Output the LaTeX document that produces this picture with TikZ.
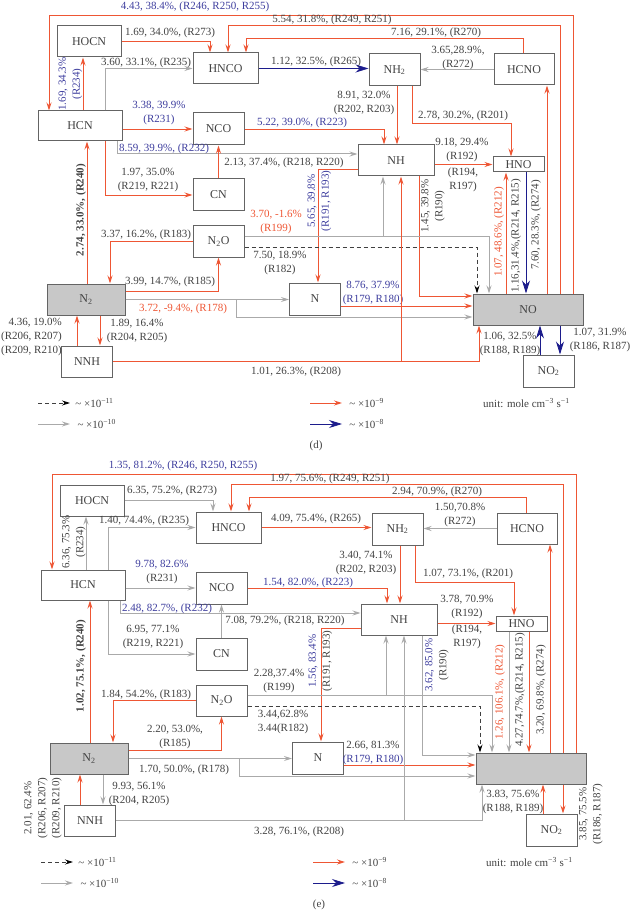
\documentclass[tikz,border=0pt]{standalone}
\usepackage{fontspec}
\setmainfont{Liberation Serif}
\usetikzlibrary{arrows.meta}

\definecolor{flowred}{RGB}{238,86,52}
\definecolor{flowblue}{RGB}{28,28,140}
\definecolor{flowgray}{RGB}{170,170,170}
\definecolor{lblblue}{RGB}{62,62,158}
\definecolor{lblgray}{RGB}{66,66,66}
\definecolor{boxline}{RGB}{100,100,100}
\definecolor{boxfill}{RGB}{200,200,200}

\tikzset{
  species/.style = {draw=boxline, line width=1pt, rectangle, minimum width=51pt,
    minimum height=31pt, inner sep=0pt, text=lblgray, font=\fontsize{12}{14}\selectfont},
  rflow/.style = {draw=flowred, line width=0.9pt, -{Stealth[length=8pt,width=5pt]}},
  gflow/.style = {draw=flowgray, line width=1pt, -{Stealth[length=8pt,width=5pt]}},
  bflow/.style = {draw=flowblue, line width=0.8pt, -{Stealth[length=13pt,width=8pt]}},
  dflow/.style = {draw=black!75, line width=0.8pt, dash pattern=on 4pt off 3pt,
    -{Stealth[length=8pt,width=5pt,black]}},
  lbl/.style = {text=lblgray, inner sep=0pt, align=center},
  lblb/.style = {lbl, text=lblblue},
  lblr/.style = {lbl, text=flowred},
  boldlbl/.style = {lbl, font=\fontsize{11}{14}\selectfont\bfseries},
}

% species boxes and legend of one panel: #1 = text of NO box, #2 = panel letter
\newcommand{\speciesnodes}[2]{%
  \node[species, minimum width=64pt] (HOCN) at (89,41.5) {HOCN};
  \node[species, minimum width=65pt] (HNCO) at (225.5,68.5) {HNCO};
  \node[species, minimum width=84pt, minimum height=30pt] (HCN) at (80,126) {HCN};
  \node[species, minimum height=32pt] (NCO) at (218.5,129) {NCO};
  \node[species, minimum height=32pt] (CN) at (218.5,195) {CN};
  \node[species, minimum height=32pt] (NHtwo) at (394.5,70) {NH\textsubscript{2}};
  \node[species, minimum width=60pt] (HCNO) at (524,69.5) {HCNO};
  \node[species, minimum width=76pt] (NH) at (396,160.5) {NH};
  \node[species, minimum height=15pt] (HNO) at (518.5,164.5) {HNO};
  \node[species] (NtwoO) at (218.5,241.5) {N\textsubscript{2}O};
  \node[species, fill=boxfill, minimum width=78pt] (Ntwo) at (86,299.5) {N\textsubscript{2}};
  \node[species] (NNH) at (87,361.5) {NNH};
  \node[species, minimum height=32pt] (N) at (315,299) {N};
  \node[species, fill=boxfill, minimum width=110pt] (NO) at (528,309.5) {#1};
  \node[species, minimum height=32pt] (NOtwo) at (548.5,371) {NO\textsubscript{2}};
  % legend
  \coordinate (kA) at (38,403);
  \coordinate (kB) at (38,424);
  \coordinate (kC) at (310,403);
  \coordinate (kD) at (310,424);
  \draw[dflow] (kA) -- ++(32,0) node[lbl, anchor=west, xshift=5pt] (kAtext) {\textasciitilde\ ×10\textsuperscript{−11}};
  \draw[gflow] (kB) -- ++(32,0) node[lbl, anchor=west, xshift=7pt] (kBtext) {\textasciitilde\ ×10\textsuperscript{−10}};
  \draw[rflow] (kC) -- ++(32,0) node[lbl, anchor=west, xshift=7pt] (kCtext) {\textasciitilde\ ×10\textsuperscript{−9}};
  \draw[bflow] (kD) -- ++(32,0) node[lbl, anchor=west, xshift=7pt] (kDtext) {\textasciitilde\ ×10\textsuperscript{−8}};
  \node[lbl, anchor=west] (unit) at (483,403) {unit: mole cm\textsuperscript{−3} s\textsuperscript{−1}};
  \node[lbl] (panel) at (316,446) {#2};
}

\begin{document}
\begin{tikzpicture}[x=1pt, y=-1pt, font=\fontsize{11}{14}\selectfont]
\useasboundingbox (0,0) rectangle (632,917);

% ---------------- panel (d)
\begin{scope}[name prefix=d-]
\speciesnodes{NO}{(d)}
\draw[rflow] ([xshift=45pt]NO.north) -- ++(0,-278) -| ([xshift=-31pt]HCN.north);
\node[lblb] (tR246) at (195,7) {4.43, 38.4\%, (R246, R250, R255)};
\draw[rflow] ([xshift=32pt]NO.north) -- ++(0,-268) -| ([xshift=2.5pt]HNCO.north);
\node[lbl] (tR249) at (332,20) {5.54, 31.8\%, (R249, R251)};
\draw[rflow] ([xshift=-1pt]HCNO.north) -- ++(0,-15) -| ([xshift=20.5pt]HNCO.north);
\node[lbl] (tR270) at (436,33) {7.16, 29.1\%, (R270)};
\draw[rflow] (HOCN.east) -| ([xshift=-15.5pt]HNCO.north);
\node[lbl] (tR273) at (170,33) {1.69, 34.0\%, (R273)};
\draw[rflow] ([xshift=3pt]HCN.north) -- ([xshift=-6pt]HOCN.south);
\node[lblb, rotate=90] (tR234) at (70.5,84) {1.69, 34.3\%\\(R234)};
\draw[gflow] ([xshift=25pt]HCN.north) |- (HNCO.west);
\node[lbl] (tR235) at (146,63) {3.60, 33.1\%, (R235)};
\draw[rflow] (HCN.east |- NCO.west) -- (NCO.west);
\node[lblb] (tR231) at (159,113.5) {3.38, 39.9\%\\(R231)};
\draw[gflow] ([xshift=37pt]HCN.south) |- ([yshift=6.5pt]NH.west);
\node[lblb] (tR232) at (164,149) {8.59, 39.9\%, (R232)};
\draw[rflow] ([xshift=25pt]HCN.south) |- (CN.west);
\node[lbl] (tR219) at (148,180) {1.97, 35.0\%\\(R219, R221)};
\draw[rflow] (CN.north) -- (NCO.south);
\node[lbl] (tR218) at (284,163) {2.13, 37.4\%, (R218, R220)};
\draw[rflow] (NCO.east) -| ([xshift=-12pt]NH.north);
\node[lblb] (tR223) at (302,123) {5.22, 39.0\%, (R223)};
\draw[bflow] (HNCO.east) -- (HNCO.east -| NHtwo.west);
\node[lbl] (tR265) at (316,62) {1.12, 32.5\%, (R265)};
\draw[gflow] (HCNO.west) -- (HCNO.west -| NHtwo.east);
\node[lbl] (tR272) at (458,58) {3.65,28.9\%,\\(R272)};
\draw[rflow] ([xshift=2.5pt]NHtwo.south) -- ([xshift=1pt]NH.north);
\node[lbl] (tR202) at (364,103) {8.91, 32.0\%\\(R202, R203)};
\draw[rflow] ([xshift=17.5pt]NHtwo.south) -- ++(0,37) -| ([xshift=-7.5pt]HNO.north);
\node[lbl] (tR201) at (463,116) {2.78, 30.2\%, (R201)};
\draw[rflow] (NH.east |- HNO.west) -- (HNO.west);
\node[lbl] (tR192) at (462,150) {9.18, 29.4\%\\(R192)};
\node[lbl] (tR194) at (463,180) {(R194,\\R197)};
\draw[rflow] ([yshift=-8.5pt]NH.west) -| ([xshift=3pt]N.north);
\node[lblb, rotate=90] (tR191) at (319.5,201) {5.65, 39.8\%\\(R191, R193)};
\draw[rflow] ([xshift=23pt]NH.south) |- ([yshift=13.5pt]NO.west);
\node[lbl, rotate=90] (tR190) at (433,206) {1.45, 39.8\%\\(R190)};
\draw[rflow] ([yshift=-7pt]N.east) -- ([yshift=3.5pt]NO.west);
\node[lblb] (tR179) at (373,293) {8.76, 37.9\%\\(R179, R180)};
\draw[gflow] (Ntwo.east) -- (Ntwo.east -| N.west);
\draw[gflow] (Ntwo.east) -- ++(111,0) |- ([yshift=-7.5pt]NO.west);
\node[lblr] (tR178) at (183,309) {3.72, -9.4\%, (R178)};
\draw[rflow] (NtwoO.west) -| ([xshift=24pt]Ntwo.north);
\node[lbl] (tR183) at (146,235) {3.37, 16.2\%, (R183)};
\draw[rflow] ([yshift=8.5pt]Ntwo.east) -| (NtwoO.south);
\node[lbl] (tR185) at (170,282) {3.99, 14.7\%, (R185)};
\draw[gflow] ([yshift=5.5pt]NtwoO.east) -| ([xshift=-39pt]NO.north);
\draw[gflow] ([yshift=5.5pt]NtwoO.east) -| ([xshift=-13pt]NH.south);
\node[lblr] (tR199) at (276,222) {3.70, -1.6\%\\(R199)};
\draw[dflow] ([yshift=-5.5pt]NtwoO.east) -| ([xshift=-51pt]NO.north);
\node[lbl] (tR182) at (280,263) {7.50, 18.9\%\\(R182)};
\draw[rflow] ([xshift=-22pt]NO.north) -- ([xshift=-12.5pt]HNO.south);
\node[lblr, rotate=90] (tR212) at (499,232) {1.07, 48.6\%, (R212)};
\draw[bflow] ([xshift=7.5pt]HNO.south) -- ([xshift=-2pt]NO.north);
\node[lbl, rotate=90] (tR214) at (516,236) {1.16,31.4\%,(R214, R215)};
\draw[rflow] ([xshift=19pt]NO.north) -- ([xshift=23pt]HCNO.south);
\node[lbl, rotate=90] (tR274) at (536,225) {7.60, 28.3\%, (R274)};
\draw[bflow] ([xshift=-8.5pt]NOtwo.north) -- ([xshift=12pt]NO.south);
\node[lbl] (tR188) at (510,344) {1.06, 32.5\%\\(R188, R189)};
\draw[bflow] ([xshift=32pt]NO.south) -- ([xshift=11.5pt]NOtwo.north);
\node[lbl] (tR186) at (600,340) {1.07, 31.9\%\\(R186, R187)};
\draw[rflow] ([xshift=-10pt]NNH.north) -- ([xshift=-9pt]Ntwo.south);
\draw[rflow] ([xshift=14pt]Ntwo.south) -- ([xshift=13pt]NNH.north);
\node[lbl, align=right, anchor=west] (tR206) at (1,337) {4.36, 19.0\%\\(R206, R207)\\(R209, R210)};
\node[lbl] (tR204) at (137,331) {1.89, 16.4\%\\(R204, R205)};
\draw[rflow] ([xshift=1pt]Ntwo.north) -- ([xshift=7pt]HCN.south);
\node[boldlbl, rotate=90] (tR240) at (81,210) {2.74, 33.0\%, (R240)};
\draw[rflow] (NNH.east) -| ([xshift=-49pt]NO.south);
\draw[rflow] (NNH.east) -| ([xshift=5pt]NH.south);
\node[lbl] (tR208) at (296,372) {1.01, 26.3\%, (R208)};
\end{scope}

% ---------------- panel (e)
\begin{scope}[name prefix=e-, shift={(3,459)}]
\speciesnodes{}{(e)}
\draw[rflow] ([xshift=45pt]NO.north) -- ++(0,-278) -| ([xshift=-31pt]HCN.north);
\node[lblb] (tR246) at (180,7) {1.35, 81.2\%, (R246, R250, R255)};
\draw[rflow] ([xshift=32pt]NO.north) -- ++(0,-268) -| ([xshift=2.5pt]HNCO.north);
\node[lbl] (tR249) at (327,20) {1.97, 75.6\%, (R249, R251)};
\draw[rflow] ([xshift=-1pt]HCNO.north) -- ++(0,-15) -| ([xshift=20.5pt]HNCO.north);
\node[lbl] (tR270) at (434,33) {2.94, 70.9\%, (R270)};
\draw[gflow] (HOCN.east) -| ([xshift=-15.5pt]HNCO.north);
\node[lbl] (tR273) at (169,32) {6.35, 75.2\%, (R273)};
\draw[gflow] ([xshift=3pt]HCN.north) -- ([xshift=-6pt]HOCN.south);
\node[lbl, rotate=90] (tR234) at (71,83) {6.36, 75.3\%\\(R234)};
\draw[gflow] ([xshift=25pt]HCN.north) |- (HNCO.west);
\node[lbl] (tR235) at (141,62) {1.40, 74.4\%, (R235)};
\draw[gflow] (HCN.east |- NCO.west) -- (NCO.west);
\node[lbl] (tR231) at (159,113) {\textcolor{lblblue}{9.78, 82.6\%}\\(R231)};
\draw[gflow] ([xshift=37pt]HCN.south) |- ([yshift=6.5pt]NH.west);
\node[lblb] (tR232) at (164,150) {2.48, 82.7\%, (R232)};
\draw[gflow] ([xshift=25pt]HCN.south) |- (CN.west);
\node[lbl] (tR219) at (150,178) {6.95, 77.1\%\\(R219, R221)};
\draw[gflow] (CN.north) -- (NCO.south);
\node[lbl] (tR218) at (282,162) {7.08, 79.2\%, (R218, R220)};
\draw[rflow] (NCO.east) -| ([xshift=-12pt]NH.north);
\node[lblb] (tR223) at (305,124) {1.54, 82.0\%, (R223)};
\draw[rflow] (HNCO.east) -- (HNCO.east -| NHtwo.west);
\node[lbl] (tR265) at (313,60) {4.09, 75.4\%, (R265)};
\draw[gflow] (HCNO.west) -- (HCNO.west -| NHtwo.east);
\node[lbl] (tR272) at (457,56) {1.50,70.8\%\\(R272)};
\draw[rflow] ([xshift=2.5pt]NHtwo.south) -- ([xshift=1pt]NH.north);
\node[lbl] (tR202) at (363,104) {3.40, 74.1\%\\(R202, R203)};
\draw[rflow] ([xshift=17.5pt]NHtwo.south) -- ++(0,37) -| ([xshift=-7.5pt]HNO.north);
\node[lbl] (tR201) at (465,115) {1.07, 73.1\%, (R201)};
\draw[rflow] (NH.east |- HNO.west) -- (HNO.west);
\node[lbl] (tR192) at (464,148.5) {3.78, 70.9\%\\(R192)};
\node[lbl] (tR194) at (464,178) {(R194,\\R197)};
\draw[rflow] ([yshift=-8.5pt]NH.west) -| ([xshift=3pt]N.north);
\node[lbl, rotate=90] (tR191) at (317.5,202) {\textcolor{lblblue}{1.56, 83.4\%}\\(R191, R193)};
\draw[gflow] ([xshift=23pt]NH.south) |- ([yshift=13.5pt]NO.west);
\node[lbl, rotate=90] (tR190) at (434,206) {\textcolor{lblblue}{3.62, 85.0\%}\\(R190)};
\draw[rflow] ([yshift=-7pt]N.east) -- ([yshift=3.5pt]NO.west);
\node[lbl] (tR179) at (370,294.5) {2.66, 81.3\%\\\textcolor{lblblue}{(R179, R180)}};
\draw[gflow] (Ntwo.east) -- (Ntwo.east -| N.west);
\draw[gflow] (Ntwo.east) -- ++(111,0) |- ([yshift=-7.5pt]NO.west);
\node[lbl] (tR178) at (181,311) {1.70, 50.0\%, (R178)};
\draw[rflow] (NtwoO.west) -| ([xshift=24pt]Ntwo.north);
\node[lbl] (tR183) at (143,236) {1.84, 54.2\%, (R183)};
\draw[rflow] ([yshift=8.5pt]Ntwo.east) -| (NtwoO.south);
\node[lbl] (tR185) at (172,278) {2.20, 53.0\%,\\(R185)};
\draw[gflow] ([yshift=5.5pt]NtwoO.east) -| ([xshift=-39pt]NO.north);
\draw[gflow] ([yshift=5.5pt]NtwoO.east) -| ([xshift=-13pt]NH.south);
\node[lbl] (tR199) at (276,222.5) {2.28,37.4\%\\(R199)};
\draw[dflow] ([yshift=-5.5pt]NtwoO.east) -| ([xshift=-51pt]NO.north);
\node[lbl] (tR182) at (280,263) {3.44,62.8\%\\3.44(R182)};
\draw[gflow] ([xshift=-12.5pt]HNO.south) -- ([xshift=-22pt]NO.north);
\node[lblr, rotate=90] (tR212) at (497,233) {1.26, 106.1\%, (R212)};
\draw[rflow] ([xshift=7.5pt]HNO.south) -- ([xshift=-2pt]NO.north);
\node[lbl, rotate=90] (tR214) at (517,231) {4.27,74.7\%,(R214, R215)};
\draw[rflow] ([xshift=19pt]NO.north) -- ([xshift=23pt]HCNO.south);
\node[lbl, rotate=90] (tR274) at (538,231) {3.20, 69.8\%, (R274)};
\draw[rflow] ([xshift=-8.5pt]NOtwo.north) -- ([xshift=12pt]NO.south);
\node[lbl] (tR188) at (510,343) {3.83, 75.6\%\\(R188, R189)};
\draw[rflow] ([xshift=32pt]NO.south) -- ([xshift=11.5pt]NOtwo.north);
\node[lbl, rotate=90] (tR186) at (588,355) {3.85, 75.5\%\\(R186, R187)};
\draw[rflow] ([xshift=-10pt]NNH.north) -- ([xshift=-9pt]Ntwo.south);
\draw[gflow] ([xshift=14pt]Ntwo.south) -- ([xshift=13pt]NNH.north);
\node[lbl, rotate=90] (tR206) at (40,349) {2.01, 62.4\%\\(R206, R207)\\(R209, R210)};
\node[lbl] (tR204) at (136,335.5) {9.93, 56.1\%\\(R204, R205)};
\draw[rflow] ([xshift=1pt]Ntwo.north) -- ([xshift=7pt]HCN.south);
\node[boldlbl, rotate=90] (tR240) at (78,207) {1.02, 75.1\%, (R240)};
\draw[gflow] (NNH.east) -| ([xshift=-49pt]NO.south);
\draw[gflow] (NNH.east) -| ([xshift=5pt]NH.south);
\node[lbl] (tR208) at (296,373) {3.28, 76.1\%, (R208)};
\end{scope}
\end{tikzpicture}
\end{document}
